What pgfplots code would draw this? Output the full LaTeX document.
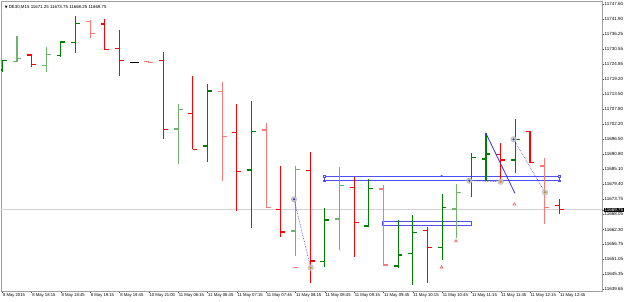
\documentclass[border=0pt]{standalone}
\usepackage{pgfplots}
\pgfplotsset{compat=1.18}
\usepackage{fontspec}
\setmainfont{Liberation Sans}
\newfontfamily\dejavu{DejaVu Sans}
\definecolor{bullD}{RGB}{0,128,0}
\definecolor{bullL}{RGB}{110,180,110}
\definecolor{bearD}{RGB}{255,0,0}
\definecolor{bearL}{RGB}{255,120,120}
\definecolor{mtblue}{RGB}{50,50,235}
\definecolor{rectblue}{RGB}{80,80,240}
\definecolor{mtorange}{RGB}{240,120,0}

\begin{document}
\begin{tikzpicture}
\begin{axis}[
 at={(1pt,10pt)}, anchor=south west,
 scale only axis, width=601pt, height=290pt,
 xmin=-0.089, xmax=40.91, ymin=11639.03, ymax=11748.73,
 unbounded coords=jump,
 scaled y ticks=false, scaled x ticks=false,
 axis line style={gray!75, line width=0.6pt},
 tick align=outside, major tick length=2pt,
 tick style={gray!60!black, line width=0.4pt},
 ytick pos=right, yticklabel pos=right, xtick pos=bottom,
 ytick={11747.60,11741.90,11736.25,11730.55,11724.85,11719.20,11713.50,11707.80,11702.20,11696.50,11690.80,11685.10,11679.40,11673.75,11668.05,11662.30,11656.75,11651.05,11645.35,11639.65},
 yticklabels={11747.60,11741.90,11736.25,11730.55,11724.85,11719.20,11713.50,11707.80,11702.20,11696.50,11690.80,11685.10,11679.40,11673.75,11668.05,11662.30,11656.75,11651.05,11645.35,11639.65},
 y tick label style={font=\fontsize{4.5}{5}\selectfont, anchor=west, inner sep=0.5pt},
 extra y ticks={11669.75}, extra y tick labels={11669.75},
 extra y tick style={tick label style={fill=black, text=white, inner sep=0.7pt}},
 xtick={0,2,...,38},
 xticklabels={8 May 2015, 8 May 18:15, 8 May 18:45, 8 May 19:15, 8 May 19:45, 10 May 21:00, 11 May 06:15, 11 May 06:45, 11 May 07:15, 11 May 07:45, 11 May 08:15, 11 May 08:45, 11 May 09:15, 11 May 09:45, 11 May 10:15, 11 May 10:45, 11 May 11:15, 11 May 11:45, 11 May 12:15, 11 May 12:45},
 x tick label style={font=\fontsize{4.2}{5}\selectfont, anchor=north west, inner sep=0.5pt},
]
% current price line
\addplot[gray!35, line width=0.6pt] coordinates {(-1,11669.75) (42,11669.75)};

% rectangles (behind bars)
\addplot[draw=rectblue, line width=0.55pt] coordinates {(21.94,11682.53) (38.0,11682.53) (38.0,11680.75) (21.94,11680.75) (21.94,11682.53)};
\addplot[draw=rectblue, line width=0.55pt] coordinates {(25.95,11665.51) (31.97,11665.51) (31.97,11663.73) (25.95,11663.73) (25.95,11665.51)};

% bullish bars, dark
\addplot[bullD, line width=1.1pt] coordinates {
(-0.3,11722.63)(0,11722.63)(0,nan)(0,11721.87)(0,11726.41)(0,nan)(0,11726.15)(0.3,11726.15)(0,nan)
(3.7,11728.19)(4,11728.19)(4,nan)(4,11727.66)(4,11733.49)(4,nan)(4,11733.22)(4.3,11733.22)(4,nan)
(4.7,11732.96)(5,11732.96)(5,nan)(5,11729.17)(5,11743.06)(5,nan)(5,11740.30)(5.3,11740.30)(5,nan)
(13.7,11693.88)(14,11693.88)(14,nan)(14,11687.94)(14,11717.33)(14,nan)(14,11714.68)(14.3,11714.68)(14,nan)
(16.7,11684.80)(17,11684.80)(17,nan)(17,11662.74)(17,11710.90)(17,nan)(17,11699.44)(17.3,11699.44)(17,nan)
(21.7,11650.11)(22,11650.11)(22,nan)(22,11647.99)(22,11670.31)(22,nan)(22,11665.88)(22.3,11665.88)(22,nan)
(24.7,11663.61)(25,11663.61)(25,nan)(25,11663.35)(25,11681.39)(25,nan)(25,11677.88)(25.3,11677.88)(25,nan)
(26.7,11648.48)(27,11648.48)(27,nan)(27,11647.61)(27,11665.88)(27,nan)(27,11652.64)(27.3,11652.64)(27,nan)
(27.7,11653.29)(28,11653.29)(28,nan)(28,11641.29)(28,11667.78)(28,nan)(28,11661.23)(28.3,11661.23)(28,nan)
(29.7,11655.41)(30,11655.41)(30,nan)(30,11650.75)(30,11675.72)(30,nan)(30,11670.69)(30.3,11670.69)(30,nan)
(31.7,11681.28)(32,11681.28)(32,nan)(32,11674.47)(32,11691.12)(32,nan)(32,11689.45)(32.3,11689.45)(32,nan)
(32.7,11688.96)(33,11688.96)(33,nan)(33,11680.64)(33,11698.91)(33,nan)(33,11690.85)(33.3,11690.85)(33,nan)
(34.7,11688.58)(35,11688.58)(35,nan)(35,11683.55)(35,11703.98)(35,nan)(35,11696.41)(35.3,11696.41)(35,nan)
};
% bullish bars, light
\addplot[bullL, line width=1.1pt] coordinates {
(0.7,11725.77)(1,11725.77)(1,nan)(1,11725.77)(1,11735.60)(1,nan)(1,11727.06)(1.3,11727.06)(1,nan)
(2.7,11724.26)(3,11724.26)(3,nan)(3,11721.99)(3,11731.44)(3,nan)(3,11728.57)(3.3,11728.57)(3,nan)
(11.7,11700.31)(12,11700.31)(12,nan)(12,11686.95)(12,11709.65)(12,nan)(12,11707.76)(12.3,11707.76)(12,nan)
(19.7,11661.72)(20,11661.72)(20,nan)(20,11652.27)(20,11686.43)(20,nan)(20,11685.06)(20.3,11685.06)(20,nan)
(22.7,11666.26)(23,11666.26)(23,nan)(23,11654.53)(23,11685.82)(23,nan)(23,11679.01)(23.3,11679.01)(23,nan)
(30.7,11670.05)(31,11670.05)(31,nan)(31,11658.96)(31,11679.50)(31,nan)(31,11676.36)(31.3,11676.36)(31,nan)
};
% bearish bars, dark
\addplot[bearD, line width=1.1pt] coordinates {
(1.7,11728.30)(2,11728.30)(2,nan)(2,11723.88)(2,11728.68)(2,nan)(2,11724.79)(2.3,11724.79)(2,nan)
(6.7,11740.03)(7,11740.03)(7,nan)(7,11730.19)(7,11741.81)(7,nan)(7,11730.46)(7.3,11730.46)(7,nan)
(7.7,11730.84)(8,11730.84)(8,nan)(8,11720.36)(8,11737.76)(8,nan)(8,11726.15)(8.3,11726.15)(8,nan)
(10.7,11726.15)(11,11726.15)(11,nan)(11,11696.41)(11,11729.55)(11,nan)(11,11700.20)(11.3,11700.20)(11,nan)
(12.7,11706.25)(13,11706.25)(13,nan)(13,11692.63)(13,11720.36)(13,nan)(13,11692.63)(13.3,11692.63)(13,nan)
(15.7,11699.06)(16,11699.06)(16,nan)(16,11669.40)(16,11709.65)(16,nan)(16,11684.16)(16.3,11684.16)(16,nan)
(18.7,11669.93)(19,11669.93)(19,nan)(19,11659.57)(19,11686.43)(19,nan)(19,11661.34)(19.3,11661.34)(19,nan)
(20.7,11684.53)(21,11684.53)(21,nan)(21,11642.05)(21,11691.72)(21,nan)(21,11650.37)(21.3,11650.37)(21,nan)
(23.7,11678.25)(24,11678.25)(24,nan)(24,11652.00)(24,11682.26)(24,nan)(24,11665.01)(24.3,11665.01)(24,nan)
(28.7,11661.84)(29,11661.84)(29,nan)(29,11642.05)(29,11663.35)(29,nan)(29,11655.56)(29.3,11655.56)(29,nan)
(33.7,11690.74)(34,11690.74)(34,nan)(34,11680.75)(34,11694.90)(34,nan)(34,11688.58)(34.3,11688.58)(34,nan)
(35.7,11699.29)(36,11699.29)(36,nan)(36,11687.56)(36,11699.67)(36,nan)(36,11687.56)(36.3,11687.56)(36,nan)
(37.7,11671.25)(38,11671.25)(38,nan)(38,11668.25)(38,11673.75)(38,nan)(38,11669.75)(38.3,11669.75)(38,nan)
};
% bearish bars, light
\addplot[bearL, line width=1.1pt] coordinates {
(5.7,11740.90)(6,11740.90)(6,nan)(6,11734.62)(6,11741.54)(6,nan)(6,11736.51)(6.3,11736.51)(6,nan)
(9.7,11725.77)(10,11725.77)(10,nan)(10,11725.39)(10,11725.77)(10,nan)(10,11725.39)(10.3,11725.39)(10,nan)
(14.7,11714.42)(15,11714.42)(15,nan)(15,11680.64)(15,11717.98)(15,nan)(15,11697.40)(15.3,11697.40)(15,nan)
(17.7,11699.93)(18,11699.93)(18,nan)(18,11670.54)(18,11702.47)(18,nan)(18,11670.69)(18.3,11670.69)(18,nan)
(25.7,11677.61)(26,11677.61)(26,nan)(26,11648.86)(26,11679.12)(26,nan)(26,11648.86)(26.3,11648.86)(26,nan)
(36.7,11686.31)(37,11686.31)(37,nan)(37,11664.37)(37,11689.22)(37,nan)(37,11670.69)(37.3,11670.69)(37,nan)
};
% doji
\addplot[black, line width=1.1pt] coordinates {(8.7,11725.39)(9.3,11725.39)};

% rectangle handles
\addplot[only marks, mark=square*, mark size=0.9pt, mark options={fill=white, draw=rectblue, line width=0.4pt}] coordinates {(21.94,11682.53) (38.0,11682.53) (38.0,11680.75) (21.94,11680.75)};
\addplot[only marks, mark=o, mark size=0.9pt, mark options={draw=rectblue, line width=0.4pt}] coordinates {(29.97,11682.53)};

% trend line
\addplot[mtblue, line width=0.8pt] coordinates {(32.97,11698.91) (34.97,11676.00)};

% trade lines
\addplot[mtblue, densely dotted, line width=0.6pt] coordinates {(19.9,11673.72) (21.04,11647.84)};
\addplot[mtblue, densely dotted, line width=0.6pt] coordinates {(31.86,11680.75) (34.0,11680.37)};
\addplot[mtblue, densely dotted, line width=0.6pt] coordinates {(34.88,11696.42) (37.02,11676.37)};

% circles
\addplot[only marks, mark=*, mark size=2.8pt, mark options={fill=gray!45, draw=gray!60, opacity=0.9}] coordinates {(19.9,11673.72) (21.04,11647.84) (31.86,11680.75) (34.0,11680.37) (34.88,11696.42) (37.02,11676.37)};
\addplot[only marks, mark=*, mark size=0.8pt, mark options={fill=mtblue, draw=mtblue}] coordinates {(19.9,11673.72) (31.86,11680.75) (34.88,11696.42)};
\addplot[only marks, mark=*, mark size=0.8pt, mark options={fill=mtorange, draw=mtorange}] coordinates {(21.04,11647.84) (34.0,11680.37) (37.02,11676.37)};

% arrows
\addplot[only marks, mark=triangle, mark size=1.6pt, mark options={draw=bearD!70, line width=0.5pt}] coordinates {(34.93,11671.82) (30.95,11657.94) (29.97,11648.0)};
\addplot[bearL, line width=0.8pt] coordinates {(19.8,11648.1) (20.15,11648.1)};

\node[anchor=west, inner sep=0pt, font=\fontsize{4.4}{5}\selectfont] at (rel axis cs:0.006,0.979) {{\dejavu\fontsize{3.6}{4}\selectfont ▼}\kern1.2pt DE30,M15 11671.25 11673.75 11668.25 11669.75};
\end{axis}
\path[use as bounding box] (0,0) rectangle (625pt,301pt);
\end{tikzpicture}
\end{document}
